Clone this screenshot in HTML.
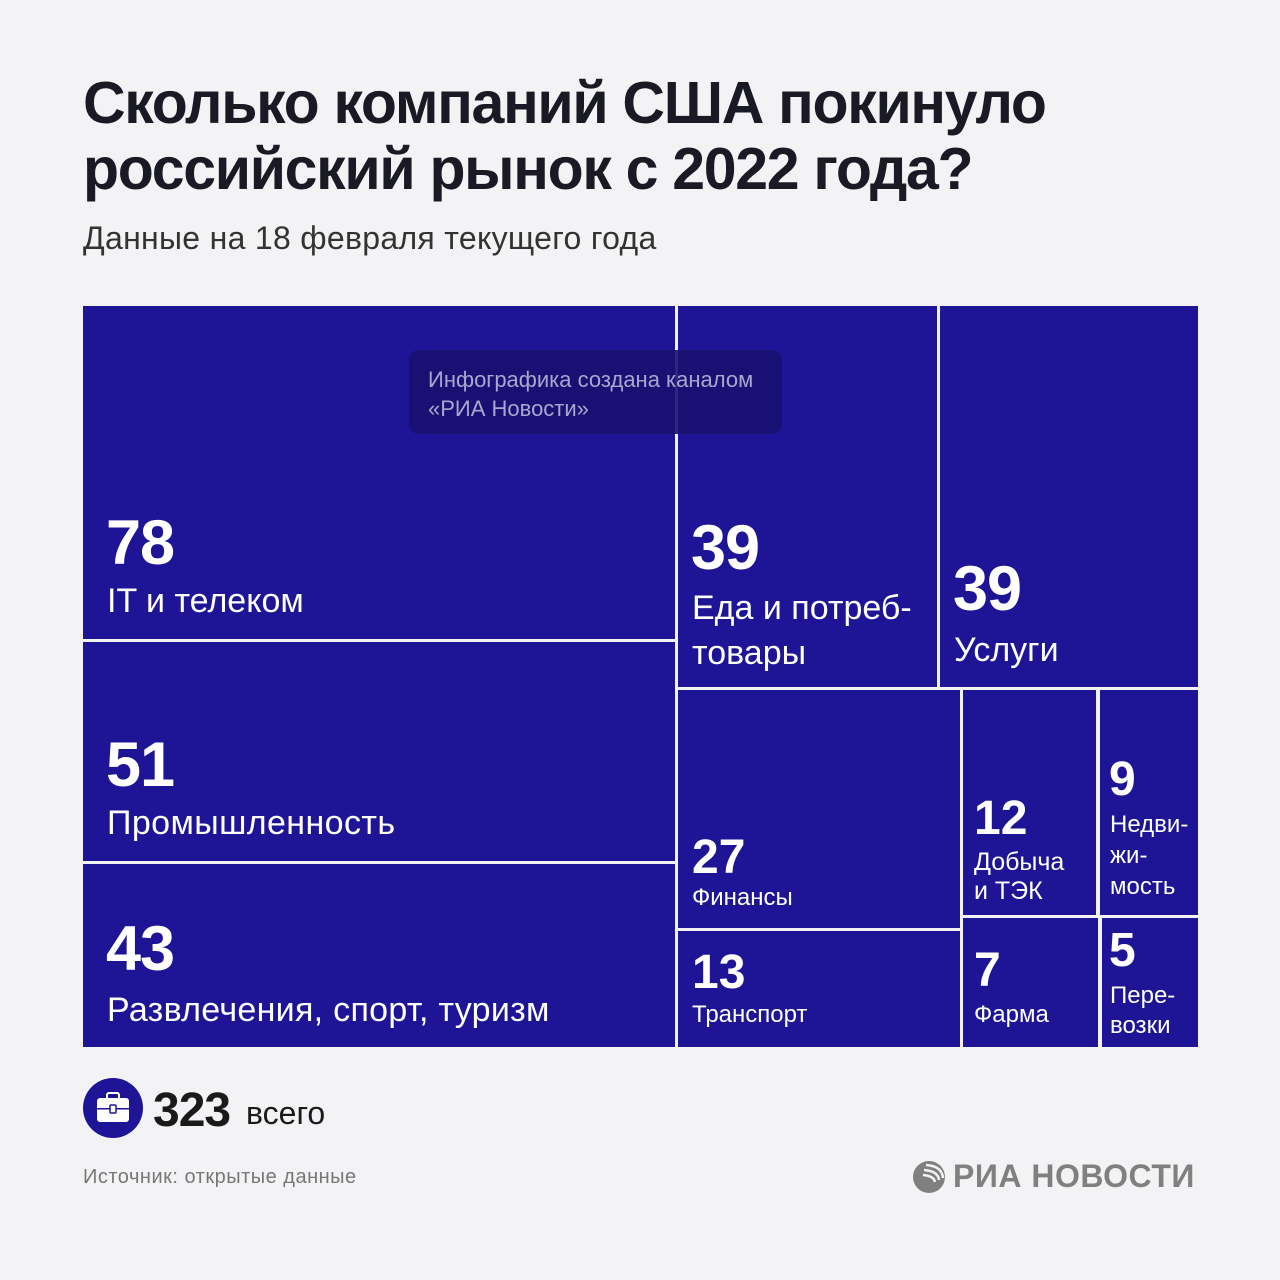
<!DOCTYPE html>
<html><head><meta charset="utf-8"><style>
body{margin:0;width:1280px;height:1280px;background:#f3f3f5;font-family:"Liberation Sans",sans-serif;position:relative;overflow:hidden}
.t{position:absolute;line-height:1;white-space:nowrap}
.b{position:absolute;background:#1e1496}
.w{color:#fff}
.n{font-weight:bold}
</style></head><body>
<div class="t n" style="left:83px;top:74px;font-size:59px;color:#1a1a24;letter-spacing:-1.3px">Сколько компаний США покинуло</div>
<div class="t n" style="left:83px;top:140px;font-size:59px;color:#1a1a24;letter-spacing:-1.3px">российский рынок с 2022 года?</div>
<div class="t" style="left:83px;top:222px;font-size:32px;color:#333;letter-spacing:0.3px">Данные на 18 февраля текущего года</div>

<div class="b" style="left:83px;top:306px;width:592px;height:333px"></div>
<div class="b" style="left:83px;top:642px;width:592px;height:219px"></div>
<div class="b" style="left:83px;top:864px;width:592px;height:183px"></div>
<div class="b" style="left:678px;top:306px;width:259px;height:381px"></div>
<div class="b" style="left:940px;top:306px;width:258px;height:381px"></div>
<div class="b" style="left:678px;top:690px;width:282px;height:238px"></div>
<div class="b" style="left:678px;top:931px;width:282px;height:116px"></div>
<div class="b" style="left:963px;top:690px;width:133px;height:225px"></div>
<div class="b" style="left:1100px;top:690px;width:98px;height:225px"></div>
<div class="b" style="left:963px;top:918px;width:135px;height:129px"></div>
<div class="b" style="left:1102px;top:918px;width:96px;height:129px"></div>

<div style="position:absolute;left:409px;top:350px;width:373px;height:84px;background:#17106e;border-radius:10px;opacity:.9"></div>
<div class="t" style="left:428px;top:369px;font-size:22px;color:#a9a6d0">Инфографика создана каналом</div>
<div class="t" style="left:428px;top:398px;font-size:22px;color:#a9a6d0">«РИА Новости»</div>

<div class="t w n" style="left:106px;top:512px;font-size:63px;letter-spacing:-1px">78</div>
<div class="t w" style="left:107px;top:584px;font-size:34px">IT и телеком</div>
<div class="t w n" style="left:106px;top:734px;font-size:63px;letter-spacing:-1px">51</div>
<div class="t w" style="left:107px;top:806px;font-size:34px;letter-spacing:0.4px">Промышленность</div>
<div class="t w n" style="left:106px;top:918px;font-size:63px;letter-spacing:-1px">43</div>
<div class="t w" style="left:107px;top:993px;font-size:34px;letter-spacing:0.3px">Развлечения, спорт, туризм</div>

<div class="t w n" style="left:691px;top:517px;font-size:63px;letter-spacing:-1px">39</div>
<div class="t w" style="left:692px;top:591px;font-size:34px">Еда и потреб-</div>
<div class="t w" style="left:692px;top:636px;font-size:34px">товары</div>
<div class="t w n" style="left:953px;top:558px;font-size:63px;letter-spacing:-1px">39</div>
<div class="t w" style="left:954px;top:633px;font-size:34px">Услуги</div>

<div class="t w n" style="left:692px;top:834px;font-size:48px">27</div>
<div class="t w" style="left:692px;top:886px;font-size:24px">Финансы</div>
<div class="t w n" style="left:692px;top:949px;font-size:48px">13</div>
<div class="t w" style="left:692px;top:1003px;font-size:24px">Транспорт</div>
<div class="t w n" style="left:974px;top:795px;font-size:48px">12</div>
<div class="t w" style="left:974px;top:850px;font-size:25px">Добыча</div>
<div class="t w" style="left:974px;top:879px;font-size:25px">и ТЭК</div>
<div class="t w n" style="left:1109px;top:756px;font-size:48px">9</div>
<div class="t w" style="left:1110px;top:813px;font-size:24px">Недви-</div>
<div class="t w" style="left:1110px;top:844px;font-size:24px">жи-</div>
<div class="t w" style="left:1110px;top:875px;font-size:24px">мость</div>
<div class="t w n" style="left:974px;top:947px;font-size:48px">7</div>
<div class="t w" style="left:974px;top:1003px;font-size:24px">Фарма</div>
<div class="t w n" style="left:1109px;top:927px;font-size:48px">5</div>
<div class="t w" style="left:1110px;top:984px;font-size:24px">Пере-</div>
<div class="t w" style="left:1110px;top:1014px;font-size:24px">возки</div>

<svg style="position:absolute;left:83px;top:1078px" width="60" height="60" viewBox="0 0 60 60">
<circle cx="30" cy="30" r="30" fill="#1e1496"/>
<rect x="14" y="20" width="32" height="24" rx="3" fill="#fff"/>
<rect x="24" y="15" width="12" height="7" rx="2" fill="none" stroke="#fff" stroke-width="2"/>
<rect x="14" y="30" width="32" height="1.5" fill="#1e1496"/>
<rect x="27" y="27" width="6" height="8" rx="1" fill="#fff" stroke="#1e1496" stroke-width="1.5"/>
</svg>
<div class="t n" style="left:153px;top:1087px;font-size:48px;color:#1a1a1a;letter-spacing:-1px">323</div>
<div class="t" style="left:246px;top:1097px;font-size:32px;color:#1a1a1a">всего</div>
<div class="t" style="left:83px;top:1167px;font-size:20px;color:#777;letter-spacing:0.5px">Источник: открытые данные</div>

<svg style="position:absolute;left:912px;top:1160px" width="34" height="34" viewBox="0 0 34 34">
<circle cx="17" cy="17" r="16" fill="#808080"/>
<path d="M14 5 Q30 6 31 18 M12 10 Q26 11 27 20 M11 15 Q22 16 23 22" stroke="#f3f3f5" stroke-width="2.5" fill="none"/>
</svg>
<div class="t n" style="left:953px;top:1160px;font-size:32px;color:#808080;letter-spacing:0.5px">РИА НОВОСТИ</div>
</body></html>
